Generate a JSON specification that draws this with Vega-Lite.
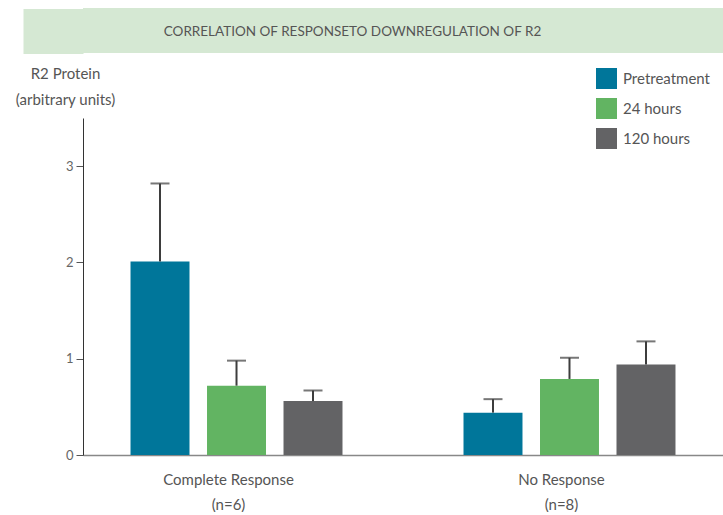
{
  "$schema": "https://vega.github.io/schema/vega-lite/v6.json",
  "padding": {"left": 0, "top": 8, "right": 0, "bottom": 0},
  "spacing": 12,
  "resolve": {"legend": {"color": "independent"}},
  "config": {"view": {"stroke": null}, "font": "Lato"},
  "vconcat": [
    {
      "width": 641,
      "height": 45,
      "view": {"fill": "#d5e8d3", "stroke": null},
      "data": {"values": [{"title": "CORRELATION OF RESPONSETO DOWNREGULATION OF R2"}]},
      "mark": {"type": "text", "font": "Lato", "fontSize": 13.5, "color": "#555555", "dx": -51, "dy": 1},
      "encoding": {
        "text": {"field": "title"},
        "y": {
          "datum": "t",
          "type": "nominal",
          "axis": {"domain": false, "labels": false, "title": null, "ticks": true, "tickSize": 60, "tickWidth": 45, "tickColor": "#d5e8d3", "tickCap": "butt", "labelPadding": 0, "minExtent": 0}
        }
      }
    },
    {
      "width": 640,
      "height": 337,
      "data": {"values": [
        {"group": "Complete Response|(n=6)", "series": "Pretreatment", "value": 2.01, "err": 2.82},
        {"group": "Complete Response|(n=6)", "series": "24 hours", "value": 0.72, "err": 0.98},
        {"group": "Complete Response|(n=6)", "series": "120 hours", "value": 0.56, "err": 0.67},
        {"group": "No Response|(n=8)", "series": "Pretreatment", "value": 0.44, "err": 0.58},
        {"group": "No Response|(n=8)", "series": "24 hours", "value": 0.79, "err": 1.01},
        {"group": "No Response|(n=8)", "series": "120 hours", "value": 0.94, "err": 1.18}
      ]},
      "encoding": {
        "x": {
          "field": "group", "type": "nominal", "sort": null,
          "scale": {"paddingInner": 0.3, "paddingOuter": 0.111},
          "axis": {
            "title": null, "labelAngle": 0, "ticks": false, "tickSize": 0,
            "domainColor": "#888888", "domainWidth": 1.5,
            "labelExpr": "split(datum.label, '|')",
            "labelFont": "Lato", "labelFontSize": 15, "labelColor": "#555555",
            "labelPadding": 17, "labelLineHeight": 25, "labelOffset": -8, "labelBaseline": "top"
          }
        },
        "xOffset": {
          "field": "series", "type": "nominal", "sort": ["Pretreatment", "24 hours", "120 hours"],
          "scale": {"paddingInner": 0.229, "paddingOuter": 0.138}
        }
      },
      "layer": [
        {
          "mark": {"type": "bar"},
          "encoding": {
            "y": {
              "field": "value", "type": "quantitative",
              "scale": {"domain": [0, 3.5], "nice": false},
              "axis": {
                "values": [0, 1, 2, 3], "format": "d", "grid": false,
                "title": ["R2 Protein", "(arbitrary units)"],
                "titleAngle": 0, "titleAlign": "center", "titleBaseline": "top",
                "titleX": -18, "titleY": -52, "titleLineHeight": 26,
                "titleFont": "Lato", "titleFontSize": 15, "titleFontWeight": "normal", "titleColor": "#555555",
                "domainColor": "#333333", "domainWidth": 1,
                "tickColor": "#555555", "tickSize": 7,
                "labelFont": "Lato", "labelFontSize": 13, "labelColor": "#666666", "labelPadding": 3
              }
            },
            "color": {
              "field": "series", "type": "nominal",
              "scale": {"domain": ["Pretreatment", "24 hours", "120 hours"], "range": ["#00769a", "#62b462", "#636365"]},
              "legend": {
                "orient": "none", "legendX": 513, "legendY": -50, "title": null,
                "symbolType": "square", "symbolSize": 441, "symbolStrokeWidth": 0, "symbolOpacity": 1,
                "labelFont": "Lato", "labelFontSize": 15, "labelColor": "#555555",
                "rowPadding": 9, "labelOffset": 6, "padding": 0
              }
            }
          }
        },
        {
          "mark": {"type": "rule", "color": "#3d3d3d", "strokeWidth": 2},
          "encoding": {
            "y": {"field": "err", "type": "quantitative"},
            "y2": {"field": "value"}
          }
        },
        {
          "mark": {"type": "tick", "color": "#3d3d3d", "size": 19, "thickness": 2},
          "encoding": {
            "y": {"field": "err", "type": "quantitative"}
          }
        }
      ]
    }
  ]
}
